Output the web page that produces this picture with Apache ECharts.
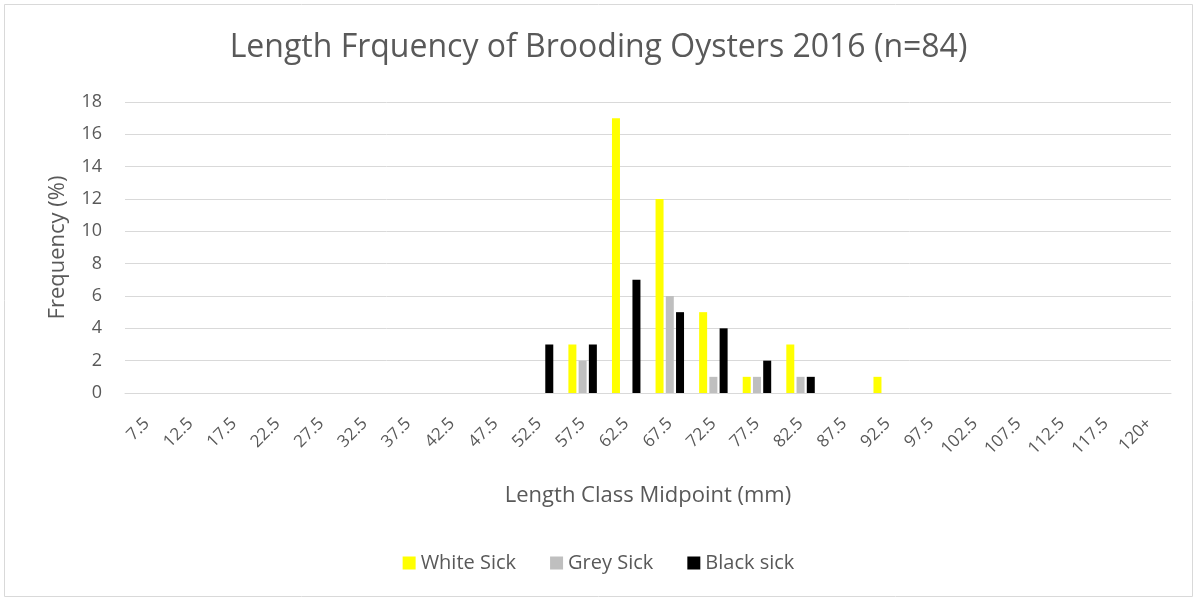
<!DOCTYPE html>
<html>
<head>
<meta charset="utf-8">
<script src="https://cdn.jsdelivr.net/npm/echarts@6/dist/echarts.min.js"></script>
<style>
  html, body { margin: 0; padding: 0; background: #fff; }
  #chart { width: 1197px; height: 601px; }
</style>
</head>
<body>
<div id="chart"></div>
<script>
// length class midpoints (mm)
var lengthClasses = ['7.5', '12.5', '17.5', '22.5', '27.5', '32.5', '37.5', '42.5', '47.5', '52.5',
    '57.5', '62.5', '67.5', '72.5', '77.5', '82.5', '87.5', '92.5', '97.5', '102.5',
    '107.5', '112.5', '117.5', '120+'];

// frequency (%) per class
var whiteSick = [0, 0, 0, 0, 0, 0, 0, 0, 0, 0, 3, 17, 12, 5, 1, 3, 0, 1, 0, 0, 0, 0, 0, 0];
var greySick  = [0, 0, 0, 0, 0, 0, 0, 0, 0, 0, 2, 0, 6, 1, 1, 1, 0, 0, 0, 0, 0, 0, 0, 0];
var blackSick = [0, 0, 0, 0, 0, 0, 0, 0, 0, 3, 3, 7, 5, 4, 2, 1, 0, 0, 0, 0, 0, 0, 0, 0];

var textColor = '#595959';
var fontFamily = '"Open Sans", "Noto Sans", sans-serif';

var myChart = echarts.init(document.getElementById('chart'));

function barSeries(name, data, color) {
    return {
        name: name,
        type: 'bar',
        data: data,
        barWidth: 8,
        barGap: '28%',
        itemStyle: { color: color },
        silent: true
    };
}

myChart.setOption({
    animation: false,
    textStyle: { fontFamily: fontFamily, color: textColor },
    title: {
        text: 'Length Frquency of Brooding Oysters 2016 (n=84)',
        left: 'center',
        top: 27,
        textStyle: { fontFamily: fontFamily, fontSize: 32, fontWeight: 'normal', color: textColor }
    },
    grid: {
        left: 125,
        right: 26,
        top: 102,
        bottom: 208
    },
    legend: {
        data: ['White Sick', 'Grey Sick', 'Black sick'],
        bottom: 23,
        left: 'center',
        itemWidth: 13,
        itemHeight: 13,
        itemGap: 34,
        icon: 'rect',
        textStyle: { fontFamily: fontFamily, fontSize: 20, color: textColor }
    },
    xAxis: {
        type: 'category',
        data: lengthClasses,
        name: 'Length Class Midpoint (mm)',
        nameLocation: 'middle',
        nameGap: 92,
        nameTextStyle: { fontFamily: fontFamily, fontSize: 22, color: textColor },
        axisLine: { lineStyle: { color: '#d9d9d9', width: 1 } },
        axisTick: { show: false },
        axisLabel: {
            interval: 0,
            rotate: 45,
            margin: 28,
            fontSize: 17,
            color: textColor,
            fontFamily: fontFamily
        }
    },
    yAxis: {
        type: 'value',
        min: 0,
        max: 18,
        interval: 2,
        name: 'Frequency (%)',
        nameLocation: 'middle',
        nameGap: 56,
        nameTextStyle: { fontFamily: fontFamily, fontSize: 22, color: textColor },
        axisLine: { show: false },
        axisTick: { show: false },
        axisLabel: { fontSize: 18, color: textColor, fontFamily: fontFamily, margin: 23 },
        splitLine: { lineStyle: { color: '#d9d9d9', width: 1 } }
    },
    graphic: [{
        type: 'rect',
        shape: { x: 4.5, y: 4.5, width: 1188, height: 592 },
        style: { fill: 'none', stroke: '#d9d9d9', lineWidth: 1 },
        silent: true
    }],
    series: [
        barSeries('White Sick', whiteSick, '#ffff00'),
        barSeries('Grey Sick', greySick, '#bfbfbf'),
        barSeries('Black sick', blackSick, '#000000')
    ]
});
</script>
</body>
</html>
